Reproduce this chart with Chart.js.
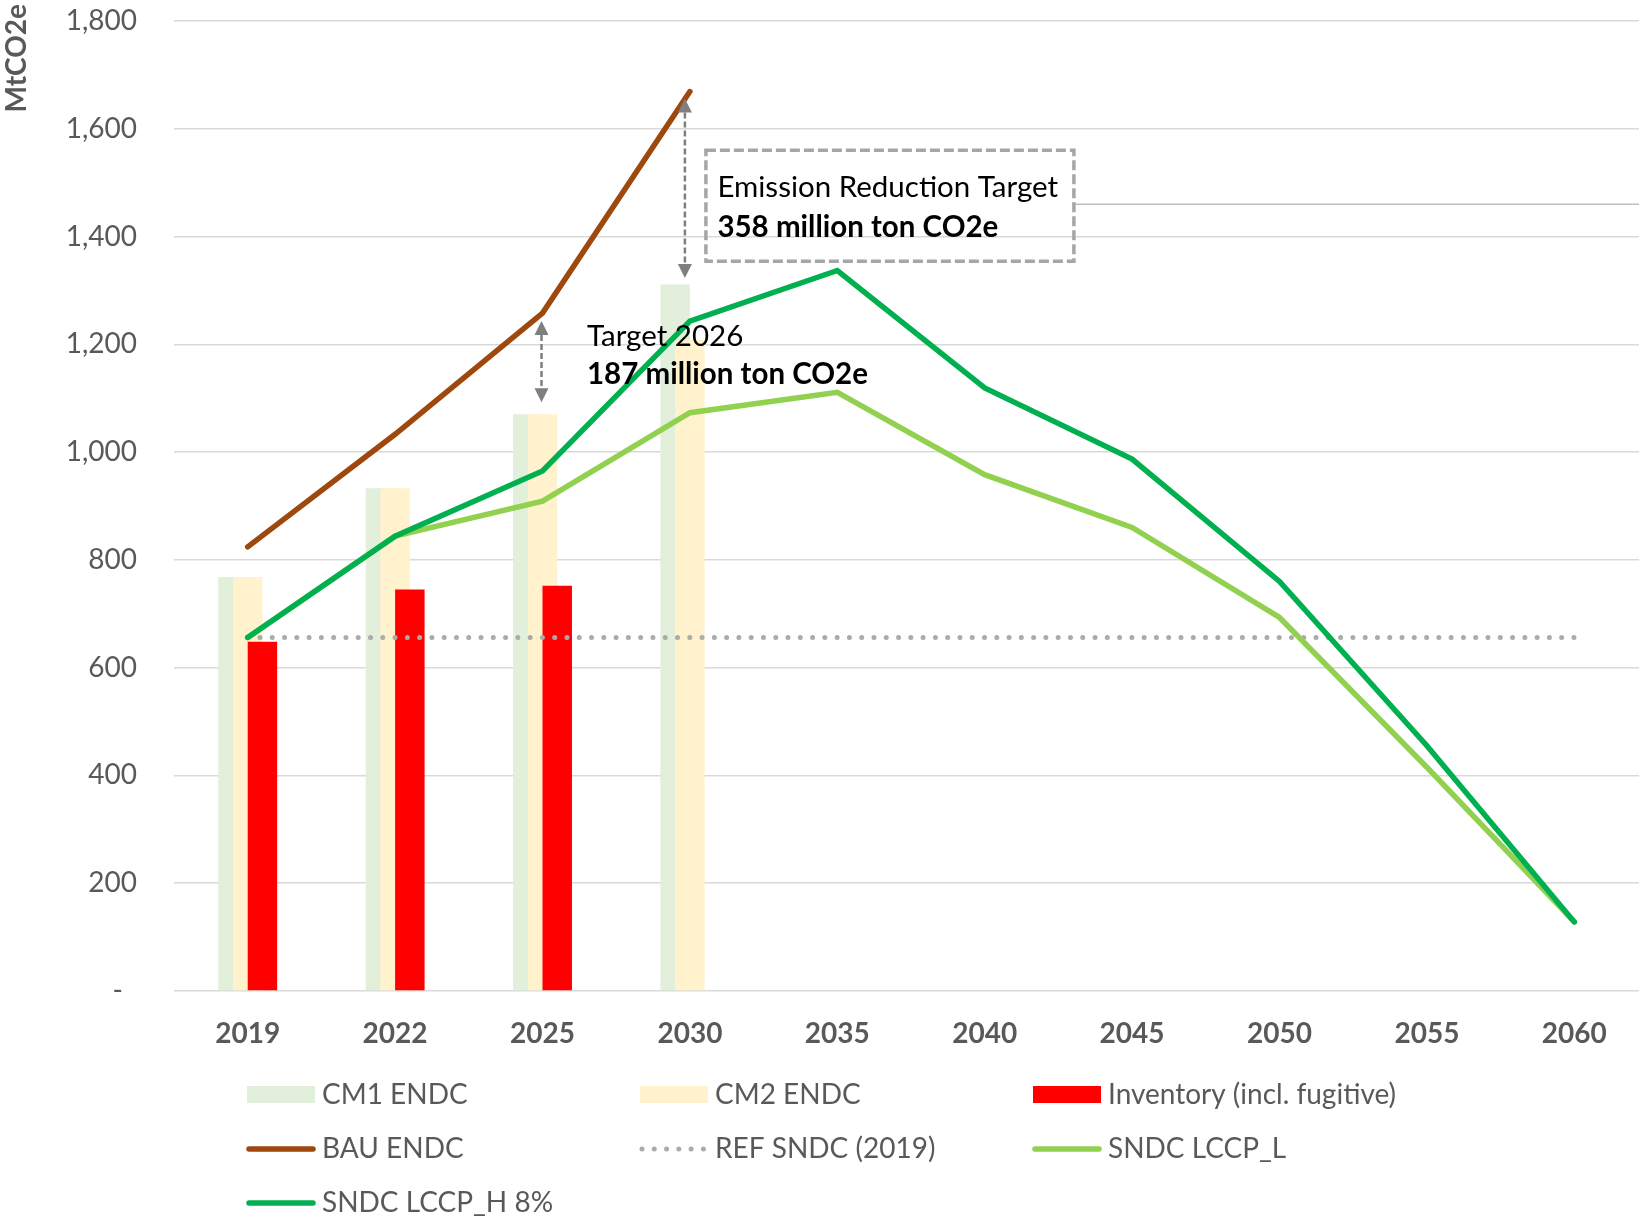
<!DOCTYPE html>
<html>
<head>
<meta charset="utf-8">
<script src="https://cdn.jsdelivr.net/npm/chart.js@4.4.1/dist/chart.umd.min.js"></script>
<style>
  html, body { margin: 0; padding: 0; background: #fff; overflow: hidden; }
</style>
</head>
<body>
<canvas id="emissionsChart" width="1648" height="1218"></canvas>
<script>
// values (MtCO2e)
var years = ["2019", "2022", "2025", "2030", "2035", "2040", "2045", "2050", "2055", "2060"];
var cm1Endc = [768, 933, 1070, 1311, null, null, null, null, null, null];
var cm2Endc = [768, 933, 1070, 1208, null, null, null, null, null, null];
var inventory = [648, 745, 752, null, null, null, null, null, null, null];
var bauEndc = [824, 1033, 1258, 1669, null, null, null, null, null, null];
var refSndc = [656, 656, 656, 656, 656, 656, 656, 656, 656, 656];
var lccpL = [656, 844, 909, 1073, 1111, 958, 860, 693, 415, 128];
var lccpH = [656, 844, 965, 1243, 1337, 1119, 987, 760, 455, 128];
var yTicks = [0, 200, 400, 600, 800, 1000, 1200, 1400, 1600, 1800];

var targetNote = ["Target 2026", "187 million ton CO2e"];
var reductionNote = ["Emission Reduction Target", "358 million ton CO2e"];

Chart.defaults.font.family = "Lato";
Chart.defaults.color = "#595959";

var ctx = document.getElementById("emissionsChart").getContext("2d");

// bars of a group overlap by half, later ones on top
var barStyle = { categoryPercentage: 0.3, barPercentage: 2.0, borderWidth: 0 };
var lineStyle = { type: "line", borderWidth: 5.5, pointRadius: 0, tension: 0, fill: false, borderCapStyle: "round" };

var data = {
  labels: years,
  datasets: [
    Object.assign({ label: "CM1 ENDC", data: cm1Endc, backgroundColor: "#E2EFDA", order: 1 }, barStyle),
    Object.assign({ label: "CM2 ENDC", data: cm2Endc, backgroundColor: "#FFF2CC", order: 2 }, barStyle),
    Object.assign({ label: "Inventory (incl. fugitive)", data: inventory, backgroundColor: "#FF0000", order: 3 }, barStyle),
    Object.assign({ label: "BAU ENDC", data: bauEndc, borderColor: "#9E480E", order: 7 }, lineStyle),
    Object.assign({ label: "REF SNDC (2019)", data: refSndc, borderColor: "#ABABAB", borderWidth: 5, borderDash: [0, 12.28], order: 4 }, lineStyle, { borderWidth: 5 }),
    Object.assign({ label: "SNDC LCCP_L", data: lccpL, borderColor: "#92D050", order: 5 }, lineStyle),
    Object.assign({ label: "SNDC LCCP_H 8%", data: lccpH, borderColor: "#00B050", order: 6 }, lineStyle),
  ],
};

// draw datasets lowest order first (chart.js default is the reverse)
var drawInOrder = {
  id: "drawInOrder",
  beforeDatasetsDraw: function (chart) {
    chart.getSortedVisibleDatasetMetas().forEach(function (meta) {
      meta.controller.draw();
    });
    return false;
  },
};

function arrow(c, x, yTop, yBottom) {
  var head = 14, half = 7;
  c.save();
  c.strokeStyle = "#7F7F7F";
  c.fillStyle = "#7F7F7F";
  c.lineWidth = 2.5;
  c.setLineDash([6, 3]);
  c.beginPath();
  c.moveTo(x, yTop + head);
  c.lineTo(x, yBottom - head);
  c.stroke();
  c.beginPath();
  c.moveTo(x, yTop);
  c.lineTo(x - half, yTop + head);
  c.lineTo(x + half, yTop + head);
  c.closePath();
  c.fill();
  c.beginPath();
  c.moveTo(x, yBottom);
  c.lineTo(x - half, yBottom - head);
  c.lineTo(x + half, yBottom - head);
  c.closePath();
  c.fill();
  c.restore();
}

var extras = {
  id: "extras",
  afterDraw: function (chart) {
    var c = chart.ctx;
    var xs = chart.scales.x;
    var ys = chart.scales.y;
    var x25 = xs.getPixelForValue(2);
    var x30 = xs.getPixelForValue(3);

    // y axis title, top aligned
    c.save();
    c.fillStyle = "#595959";
    c.font = "bold 28px Lato";
    c.translate(26, 4);
    c.rotate(-Math.PI / 2);
    c.textAlign = "right";
    c.textBaseline = "alphabetic";
    c.fillText("MtCO2e", 0, 0);
    c.restore();

    // gap arrows
    arrow(c, x25 - 1, ys.getPixelForValue(bauEndc[2]) + 8, ys.getPixelForValue(cm1Endc[2]) - 12);
    arrow(c, x30 - 5, ys.getPixelForValue(bauEndc[3]) + 7, ys.getPixelForValue(cm1Endc[3]) - 6.5);

    // dashed note box + leader line
    var left = x30 + 16, right = x30 + 384;
    var top = ys.getPixelForValue(1560), bottom = ys.getPixelForValue(1354);
    c.save();
    c.strokeStyle = "#BFBFBF";
    c.lineWidth = 1.5;
    c.beginPath();
    c.moveTo(right, ys.getPixelForValue(1460));
    c.lineTo(chart.chartArea.right, ys.getPixelForValue(1460));
    c.stroke();
    c.strokeStyle = "#A6A6A6";
    c.lineWidth = 3.5;
    c.setLineDash([10, 4]);
    c.strokeRect(left, top, right - left, bottom - top);
    c.restore();

    c.save();
    c.fillStyle = "#000000";
    c.textAlign = "left";
    c.textBaseline = "alphabetic";
    c.font = "29.5px Lato";
    c.fillText(reductionNote[0], x30 + 27.5, ys.getPixelForValue(1473));
    c.fillText(targetNote[0], x25 + 44.5, ys.getPixelForValue(1196));
    c.font = "bold 29.5px Lato";
    c.fillText(reductionNote[1], x30 + 27.5, ys.getPixelForValue(1400));
    c.fillText(targetNote[1], x25 + 44.5, ys.getPixelForValue(1126));
    c.restore();

    // legend, three columns
    var cols = [247, 640, 1033];
    var rows = [1094.5, 1149, 1203];
    c.save();
    chart.data.datasets.forEach(function (ds, i) {
      var x = cols[i % 3];
      var y = rows[Math.floor(i / 3)];
      if (ds.type === "line") {
        c.save();
        c.strokeStyle = ds.borderColor;
        c.lineWidth = ds.borderWidth;
        c.lineCap = "round";
        c.setLineDash(ds.borderDash || []);
        c.beginPath();
        c.moveTo(x + 2, y);
        c.lineTo(x + 66, y);
        c.stroke();
        c.restore();
      } else {
        c.fillStyle = ds.backgroundColor;
        c.fillRect(x, y - 8.5, 68, 17);
      }
      c.fillStyle = "#595959";
      c.font = "28px Lato";
      c.textAlign = "left";
      c.textBaseline = "middle";
      c.fillText(ds.label, x + 75, y);
    });
    c.restore();
  },
};

var options = {
  responsive: false,
  animation: false,
  layout: {
    padding: { top: 21, right: 0, bottom: 167, left: 0 },
  },
  plugins: {
    legend: { display: false },
    tooltip: { enabled: false },
  },
  scales: {
    x: {
      grid: { display: false, drawTicks: false },
      border: { display: false },
      afterFit: function (scale) {
        scale.height = 60.1;
        scale.paddingLeft = 0;
        scale.paddingRight = 0;
      },
      ticks: {
        padding: 26.5,
        font: { size: 28, weight: "bold" },
        color: "#595959",
      },
    },
    y: {
      min: 0,
      max: 1800,
      afterBuildTicks: function (scale) {
        scale.ticks = yTicks.map(function (v) { return { value: v }; });
      },
      afterFit: function (scale) {
        scale.width = 174;
        scale.paddingTop = 0;
        scale.paddingBottom = 0;
      },
      grid: { color: "#D9D9D9", lineWidth: 1.5, drawTicks: false },
      border: { display: false },
      ticks: {
        padding: 37,
        font: { size: 28 },
        color: "#595959",
        callback: function (value) {
          return value === 0 ? "-\u2002" : value.toLocaleString("en-US");
        },
      },
    },
  },
};

var emissionsChart = new Chart(ctx, {
  type: "bar",
  data: data,
  options: options,
  plugins: [drawInOrder, extras],
});
</script>
</body>
</html>
